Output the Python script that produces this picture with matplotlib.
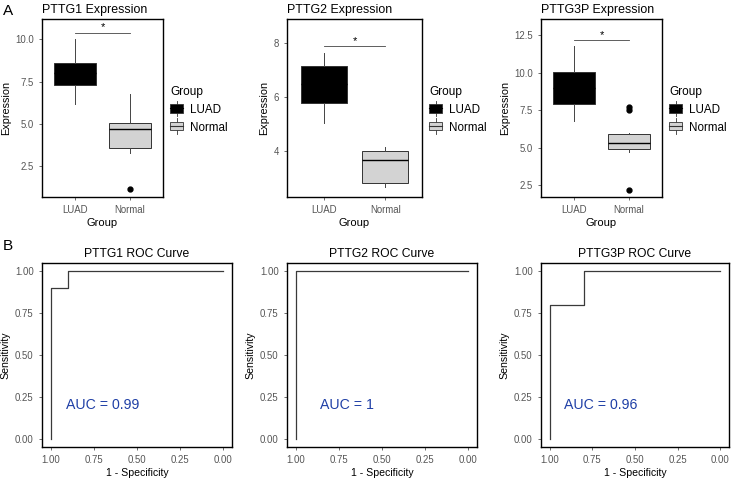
import matplotlib
matplotlib.use("Agg")
import matplotlib.pyplot as plt
from matplotlib.patches import Rectangle, Patch
from matplotlib.lines import Line2D
from matplotlib.legend_handler import HandlerBase

plt.rcParams['font.family'] = ['Liberation Sans', 'DejaVu Sans']

# ---- data ----
genes = ["PTTG1", "PTTG2", "PTTG3P"]
groups = ["LUAD", "Normal"]

# box stats per gene: (whislo, q1, med, q3, whishi)
luad_stats = [(6.2, 7.3, 8.0, 8.6, 10.0),
              (5.04, 5.78, 6.5, 7.15, 7.63),
              (6.77, 7.9, 9.0, 10.07, 11.8)]
normal_stats = [(3.3, 3.6, 4.7, 5.05, 6.8),
                (2.66, 2.81, 3.67, 4.0, 4.15),
                (4.7, 4.93, 5.33, 5.93, 6.0)]
normal_outliers = [[1.2], [], [7.5, 7.7, 2.2]]
sig_height = [10.4, 7.9, 12.2]
expr_ylim = [(0.7, 11.2), (2.3, 8.9), (1.7, 13.6)]
expr_ticks = [[2.5, 5.0, 7.5, 10.0], [4, 6, 8], [2.5, 5.0, 7.5, 10.0, 12.5]]
expr_ticklabels = [["2.5", "5.0", "7.5", "10.0"], ["4", "6", "8"],
                   ["2.5", "5.0", "7.5", "10.0", "12.5"]]

# ROC step points (specificity, sensitivity)
roc_spec = [[1.0, 1.0, 0.9, 0.9, 0.0],
            [1.0, 1.0, 0.0],
            [1.0, 1.0, 0.8, 0.8, 0.0]]
roc_sens = [[0.0, 0.9, 0.9, 1.0, 1.0],
            [0.0, 1.0, 1.0],
            [0.0, 0.8, 0.8, 1.0, 1.0]]
auc_labels = ["AUC = 0.99", "AUC = 1", "AUC = 0.96"]
roc_ticks = [0.0, 0.25, 0.5, 0.75, 1.0]
roc_ticklabels = ["0.00", "0.25", "0.50", "0.75", "1.00"]

fills = ["#000000", "#d3d3d3"]
edge = "#333333"
tick_col = "#555555"

W, H = 735, 480
fig = plt.figure(figsize=(W / 100, H / 100), dpi=100)


def px_axes(x0, x1, y0, y1):
    return fig.add_axes([x0 / W, (H - y1) / H, (x1 - x0) / W, (y1 - y0) / H])


def style_frame(ax):
    for s in ax.spines.values():
        s.set_color("black")
        s.set_linewidth(1.0)
    ax.tick_params(colors=tick_col, labelcolor=tick_col, labelsize=6.9,
                   length=2.5, width=0.6)


class BoxKey(HandlerBase):
    def create_artists(self, legend, orig, xd, yd, width, height, fontsize, trans):
        fc = orig.get_facecolor()
        cx = xd + width / 2
        wl = Line2D([cx, cx], [yd - 2.5, yd + height + 2.5], color=edge, lw=0.6, transform=trans)
        r = Rectangle((xd, yd), width, height,
                      facecolor=fc, edgecolor=edge, lw=0.6, transform=trans)
        md = Line2D([xd, xd + width], [yd + height / 2] * 2,
                    color=edge if fc[0] > 0.5 else "black", lw=0.8, transform=trans)
        return [wl, r, md]


box_x = [(42, 163), (287, 422), (541, 662)]
for i, g in enumerate(genes):
    ax = px_axes(box_x[i][0], box_x[i][1], 19, 197)
    stats = []
    for st, fl in [(luad_stats[i], []), (normal_stats[i], normal_outliers[i])]:
        stats.append(dict(whislo=st[0], q1=st[1], med=st[2], q3=st[3], whishi=st[4], fliers=fl))
    b = ax.bxp(stats, positions=[1, 2], widths=0.75, patch_artist=True, showcaps=False,
               boxprops=dict(edgecolor=edge, linewidth=0.7),
               whiskerprops=dict(color="#444444", linewidth=0.7),
               medianprops=dict(color="black", linewidth=1.0),
               flierprops=dict(marker="o", markerfacecolor="black", markeredgecolor="black",
                               markersize=3.5))
    for p, c in zip(b["boxes"], fills):
        p.set_facecolor(c)
    ax.set_xlim(0.4, 2.6)
    ax.set_ylim(*expr_ylim[i])
    ax.set_xticks([1, 2])
    ax.set_xticklabels(groups)
    ax.set_yticks(expr_ticks[i])
    ax.set_yticklabels(expr_ticklabels[i])
    ax.plot([1, 2], [sig_height[i]] * 2, color="#444444", lw=0.6)
    ax.text(1.5, sig_height[i], "*", ha="center", va="bottom", fontsize=8)
    ax.set_title(g + " Expression", loc="left", fontsize=8.9, pad=4)
    ax.set_xlabel("Group", fontsize=8, labelpad=2)
    ax.set_ylabel("Expression", fontsize=7.8, labelpad=3)
    style_frame(ax)
    handles = [Patch(facecolor=fills[0], edgecolor=edge), Patch(facecolor=fills[1], edgecolor=edge)]
    leg = ax.legend(handles, groups, title="Group", loc="center left",
                    bbox_to_anchor=(1.02, 0.49), borderaxespad=0, frameon=False,
                    fontsize=8.4, title_fontsize=8.6, handler_map={Patch: BoxKey()},
                    handlelength=1.1, handleheight=0.75, handletextpad=0.6,
                    labelspacing=0.5)
    leg._legend_box.align = "left"

roc_x = [(42, 232), (287, 477), (541, 729)]
for i, g in enumerate(genes):
    ax = px_axes(roc_x[i][0], roc_x[i][1], 263, 447)
    ax.plot(roc_spec[i], roc_sens[i], color="#3a3a3a", lw=0.9)
    ax.set_xlim(1.05, -0.05)
    ax.set_ylim(-0.05, 1.05)
    ax.set_xticks(roc_ticks)
    ax.set_xticklabels(roc_ticklabels)
    ax.set_yticks(roc_ticks)
    ax.set_yticklabels(roc_ticklabels)
    ax.text(0.7, 0.2, auc_labels[i], color="#1f3fa6", fontsize=10.2, ha="center", va="center")
    ax.set_title(g + " ROC Curve", fontsize=8.7, pad=4)
    ax.set_xlabel("1 - Specificity", fontsize=7.6, labelpad=2)
    ax.set_ylabel("Sensitivity", fontsize=7.6, labelpad=3)
    style_frame(ax)

fig.text(3 / W, 1 - 11 / H, "A", fontsize=11, va="center", ha="left")
fig.text(3 / W, 1 - 246 / H, "B", fontsize=11, va="center", ha="left")

fig.savefig("out.png", dpi=100, facecolor="white")
